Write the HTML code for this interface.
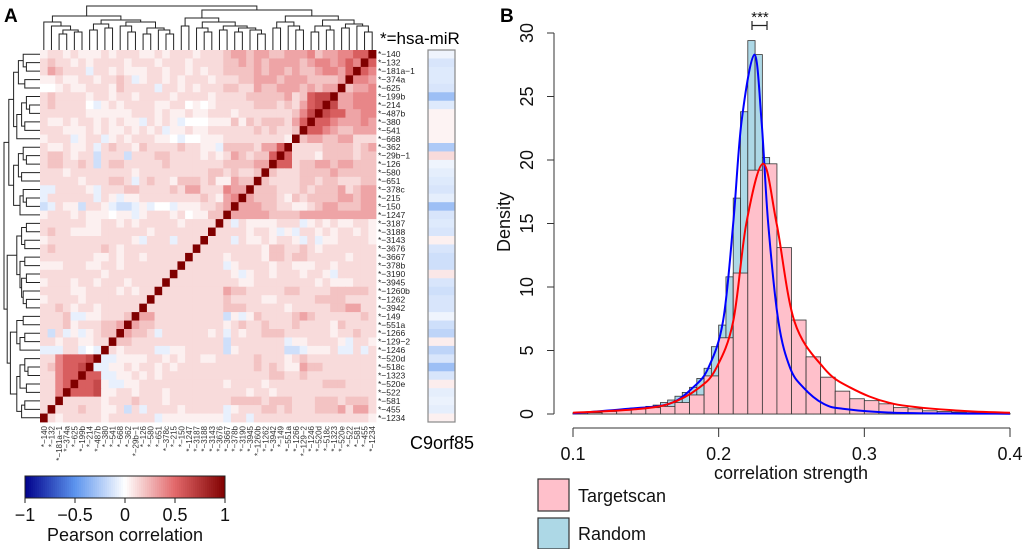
<!DOCTYPE html>
<html><head><meta charset="utf-8"><style>
html,body{margin:0;padding:0;background:#fff}
svg{display:block;font-family:"Liberation Sans",sans-serif}
</style></head><body>
<svg id="fig" width="1024" height="549" viewBox="0 0 1024 549">
<text x="4" y="22" font-size="19" font-weight="bold">A</text>
<text x="500" y="22" font-size="19" font-weight="bold">B</text>
<g id="heat"></g>
<g id="rowlab"></g>
<g id="collab"></g>
<g id="dendTop"></g>
<g id="dendLeft"></g>
<g id="side"></g>
<text x="380" y="44" font-size="17">*=hsa-miR</text>
<text x="410" y="449" font-size="18">C9orf85</text>
<g id="cbar"></g>
<g id="hist"></g>
</svg>
<script>
const NS="http://www.w3.org/2000/svg";
const labels=["140","132","181a\u22121","374a","625","199b","214","487b","380","541","668","362","29b\u22121","126","580","651","378c","215","150","1247","3187","3188","3143","3676","3667","378b","3190","3945","1260b","1262","3942","149","551a","1266","129\u22122","1246","520d","518c","1323","520e","522","581","455","1234"];
const heatRows=[
"122121112122211212221222"+"3443443344453445566D",
"232212122221222122212222"+"334343444434554565D6",
"243222x22121112212212122"+"3333434434334554 6D65".replace(" ",""),
"112112212232x12212122212"+"2233444344433334D554",
"001211222132222x22121222"+"332243344434344D3445",
"232222122122122221222212"+"22233333423677D44555",
"2322220x1212222112201012"+"2222333232467D744555",
"222222111111222121121122"+"212222222357D7664455",
"2112122121211x2121x00011"+"13132333246D66544454",
"2221112121121212x1121122"+"2222323223D665433444",
"1222x122x121222110x00111"+"222222221D3443344222",
"2112112x232213222232211x"+"33332446D22223333234",
"2332122y222y222332222121"+"2432336D622213333233",
"2332232y2332222232222222"+"333344D6623344344333",
"222122222222122222222233"+"23223D32223333433333",
"222221222332x23221333231"+"1433D322223323322233",
"xx22221x2223322223244222"+"544D3332223233342344",
"x222222x21x1122222222321"+"45D43332132333344344",
"yx211y221xyyx1x00x111223"+"4D444332211234433344",
"122212111011x12221201133"+"D4444433334444444444",
"22222211221212222212222D"+"2x21111222x121211221",
"2322111122222212222222D2"+"2221221x1x2212122121",
"1222222222221x222x222D22"+"2x21121221x2x1122221",
"23222222321222222222D222"+"22222133223212222222",
"2222222112122122222D2222"+"12222133233222221222",
"111222112212222222D22222"+"x1222212211122122222",
"22222222122222222D222222"+"21x12212221221x22222",
"1222122122212222D2222222"+"22112222222212111222",
"222211222212122D22222222"+"43322222332222333332",
"12222122222222D222222222"+"32222112222233332222",
"2232122122222D2222222222"+"33322222122222334422",
"2223xx112223D44222222222"+"y1x13222234322222232",
"22231222334D433222222222"+"12322322232222132222",
"2y2x1x1233D4332x22222212"+"x2122333222222122322",
"221221122D33222222222222"+"y2222222x1122221x221",
"xxx22x0xD212222xx1122222"+"y1222222yyx1112xx2x2",
"2256667Dxx11112212122112"+"22223222123222222222",
"235667Dxx112122121222222"+"22223232114332222222",
"22566D66xx11212122222222"+"22222233223222222222",
"2256D6671xx1122222222222"+"12222122222223332222",
"225D66671122122212222222"+"22212212222222222222",
"22D222221222322212222222"+"23333233322233323332",
"2D222322112y2x2222122222"+"x1222332322233342442",
"D21222221222222x11111111"+"x22x2222222222222221"];
const levelValues=[0,0.05,0.12,0.2,0.3,0.4,0.55,0.65,0.75,0.85];
const sideVals=[-0.05,-0.12,-0.1,-0.1,-0.12,-0.3,-0.1,0.04,0.04,0.04,0.04,-0.25,0.12,-0.05,-0.08,-0.1,-0.12,-0.08,-0.3,-0.12,-0.1,-0.12,0.05,-0.12,-0.15,-0.15,0.08,-0.12,-0.15,-0.12,-0.12,-0.05,-0.15,-0.2,0.06,-0.2,-0.12,-0.3,-0.12,0.06,-0.08,-0.06,-0.08,0.05];
const topTree=[1.0,[0.75,[0.6,0,[0.5,1,[0.4,[0.3,2,3],[0.35,4,5]]]],[0.65,[0.55,[0.4,6,7],[0.45,8,9]],[0.6,[0.5,10,[0.35,11,12]],[0.45,[0.3,13,14],[0.4,15,[0.3,16,17]]]]]],[0.9,[0.7,[0.5,18,19],[0.6,[0.45,20,[0.35,21,22]],[0.5,[0.4,23,24],[0.45,[0.35,25,26],[0.4,27,[0.3,28,29]]]]]],[0.75,[0.6,[0.45,30,31],[0.5,32,[0.4,33,34]]],[0.65,[0.5,[0.35,35,36],[0.4,37,38]],[0.55,[0.45,39,40],[0.5,41,[0.35,42,43]]]]]]];
const leftTree=[1.0,[0.85,[0.7,[0.55,[0.4,0,[0.3,1,2]],[0.35,3,4]],[0.6,[0.45,[0.3,5,[0.2,6,7]],[0.35,8,9]],10]],[0.7,[0.55,[0.4,11,[0.3,12,13]],[0.45,14,15]],[0.5,[0.4,16,[0.3,17,18]],19]]],[0.9,[0.6,[0.45,[0.3,20,21],[0.35,22,23]],[0.5,[0.35,24,25],[0.45,[0.3,26,27],[0.4,28,[0.3,29,30]]]]],[0.8,[0.6,[0.4,31,32],[0.5,[0.35,33,34],35]],[0.6,[0.5,[0.35,36,[0.25,37,38]],[0.3,39,40]],[0.45,[0.35,41,42],43]]]]];
const cbTicks=[-1,-0.5,0,0.5,1];
const cbTickLabels=["\u22121","\u22120.5","0","0.5","1"];
// histogram data
const pinkDensity=[0.1,0.1,0.2,0.3,0.4,0.5,0.6,0.9,1.5,3.0,6.0,11.1,19.2,19.7,13.1,7.4,4.5,2.9,1.8,1.2,1.05,0.8,0.5,0.4,0.25,0.2,0.15,0.1,0.1,0.05];
const blueDensity=[0.05,0.05,0.1,0.1,0.2,0.3,0.3,0.3,0.4,0.5,0.6,0.7,0.9,1.1,1.4,1.7,2.1,2.8,3.6,5.3,7.0,10.8,17.0,23.8,29.4,28.3,20.2,12.0,6.5,4.0,2.6,1.8,1.3,0.9,0.7,0.5,0.4,0.3,0.25,0.2,0.15,0.1,0.1,0.1,0.1,0.08,0.06,0.05,0.05,0.04,0.04,0.03,0.03,0.02,0.02,0.02,0.02,0.01,0.01,0.01];
const blueCurveX=[0.10,0.137,0.166,0.1825,0.193,0.203,0.21,0.2157,0.2245,0.2295,0.234,0.241,0.249,0.258,0.272,0.286,0.32,0.40];
const blueCurveY=[0.05,0.4,0.8,2.1,3.65,7.3,15,23,28.3,23,15,7.3,3.65,2.1,0.8,0.4,0.1,0.02];
const redCurveX=[0.10,0.14,0.166,0.187,0.1985,0.21,0.219,0.2305,0.2398,0.252,0.272,0.29,0.32,0.366,0.40];
const redCurveY=[0.1,0.35,0.8,2.1,3.65,7.3,15,19.7,15,7.3,3.65,2.1,0.8,0.25,0.1];
const xTicks=[0.1,0.2,0.3,0.4];
const yTicks=[0,5,10,15,20,25,30];

function mk(tag,attrs,parent){const e=document.createElementNS(NS,tag);for(const k in attrs)e.setAttribute(k,attrs[k]);parent.appendChild(e);return e;}
function lerp(a,b,t){return a.map((v,i)=>Math.round(v+(b[i]-v)*t));}
function col(v){v=Math.max(-1,Math.min(1,v));let c;
 if(v>=0){c=v<0.5?lerp([255,255,255],[226,104,106],v/0.5):lerp([226,104,106],[128,0,0],(v-0.5)/0.5);}
 else{const a=-v;c=a<0.5?lerp([255,255,255],[92,148,238],a/0.5):lerp([92,148,238],[0,0,139],(a-0.5)/0.5);}
 return `rgb(${c[0]},${c[1]},${c[2]})`;}
function charVal(ch){if(ch==="D")return 1;if(ch==="x")return -0.07;if(ch==="y")return -0.15;if(ch==="z")return -0.25;return levelValues[+ch]||0;}

const HX0=40,HY0=50,CW=336/44,RH=372/44;
const cx=c=>HX0+(c+0.5)*CW, ry=r=>HY0+(r+0.5)*RH;
const heat=document.getElementById("heat");
heatRows.forEach((row,r)=>{for(let c=0;c<44;c++){const ch=row[c]||"2";
 const e=mk("rect",{x:(HX0+c*CW).toFixed(2),y:(HY0+r*RH).toFixed(2),width:(CW+0.4).toFixed(2),height:(RH+0.4).toFixed(2),fill:col(charVal(ch))},heat);
 
 }});
const rl=document.getElementById("rowlab"),cl=document.getElementById("collab");
labels.forEach((l,i)=>{
 const t=mk("text",{x:378,y:(ry(i)+3).toFixed(1),"font-size":"8.5",fill:"#222"},rl);t.textContent="*\u2212"+l;
 
 
 const u=mk("text",{transform:`translate(${(cx(i)+3).toFixed(1)},426) rotate(-90)`,"text-anchor":"end","font-size":"8",fill:"#333"},cl);u.textContent="*\u2212"+l;
 
 });
function drawTree(node,g,pos,hmap,vertical){
 if(typeof node==="number")return [pos(node),0];
 const a=drawTree(node[1],g,pos,hmap,vertical),b=drawTree(node[2],g,pos,hmap,vertical),h=node[0];
 const H=hmap(h),ha=hmap(a[1]),hb=hmap(b[1]);
 const d=vertical?`M${a[0]},${ha}V${H}H${b[0]}V${hb}`:`M${ha},${a[0]}H${H}V${b[0]}H${hb}`;
 const p=mk("path",{d:d,fill:"none",stroke:"#222","stroke-width":"1"},g);
 
 
 return [(a[0]+b[0])/2,h];}
drawTree(topTree,document.getElementById("dendTop"),c=>cx(c),h=>h===0?HY0:HY0-4-h*40,true);
drawTree(leftTree,document.getElementById("dendLeft"),r=>ry(r),h=>h===0?HX0:HX0-4-h*32,false);
const side=document.getElementById("side");
sideVals.forEach((v,i)=>{const e=mk("rect",{x:428,y:(HY0+i*RH).toFixed(2),width:27,height:(RH+0.4).toFixed(2),fill:col(v)},side);
 
 });
const sb=mk("rect",{x:428,y:HY0,width:27,height:372,fill:"none",stroke:"#888","stroke-width":"1.2"},side);


const cb=document.getElementById("cbar");const cbx=v=>125+v*100;
for(let i=0;i<100;i++){const v=-1+i*0.02+0.01;const e=mk("rect",{x:(cbx(v)-1).toFixed(2),y:476,width:2.2,height:22,fill:col(v)},cb);
 
 }
const cf=mk("rect",{x:25,y:476,width:200,height:22,fill:"none",stroke:"#222","stroke-width":"1"},cb);


cbTicks.forEach((v,i)=>{const l=mk("line",{x1:cbx(v),x2:cbx(v),y1:498,y2:503,stroke:"#222"},cb);
 
 
 const t=mk("text",{x:cbx(v),y:521,"text-anchor":"middle","font-size":"18",fill:"#111"},cb);t.textContent=cbTickLabels[i];
 
 });
const ct=mk("text",{x:125,y:541,"text-anchor":"middle","font-size":"18",fill:"#111"},cb);ct.textContent="Pearson correlation";


const hg=document.getElementById("hist");
const X=v=>573+(v-0.1)*(437/0.3), Y=d=>414-d*12.7;
blueDensity.forEach((d,i)=>{const x0=0.1+i*0.005;const e=mk("rect",{x:X(x0).toFixed(2),y:Y(d).toFixed(2),width:(X(x0+0.005)-X(x0)).toFixed(2),height:(414-Y(d)).toFixed(2),fill:"#ADD8E6",stroke:"#333","stroke-width":"0.8"},hg);
 
 });
pinkDensity.forEach((d,i)=>{const x0=0.1+i*0.01;const e=mk("rect",{x:X(x0).toFixed(2),y:Y(d).toFixed(2),width:(X(x0+0.01)-X(x0)).toFixed(2),height:(414-Y(d)).toFixed(2),fill:"#FFC0CB",stroke:"#333","stroke-width":"0.8"},hg);
 
 });
function curve(xs,ys,color,name){
 const P=xs.map((x,i)=>[X(x),Y(ys[i])]);
 let d="M"+P[0][0].toFixed(1)+","+P[0][1].toFixed(1);
 for(let i=0;i<P.length-1;i++){const p0=P[Math.max(0,i-1)],p1=P[i],p2=P[i+1],p3=P[Math.min(P.length-1,i+2)];
  const c1=[p1[0]+(p2[0]-p0[0])/6,p1[1]+(p2[1]-p0[1])/6],c2=[p2[0]-(p3[0]-p1[0])/6,p2[1]-(p3[1]-p1[1])/6];
  d+=`C${c1[0].toFixed(1)},${c1[1].toFixed(1)} ${c2[0].toFixed(1)},${c2[1].toFixed(1)} ${p2[0].toFixed(1)},${p2[1].toFixed(1)}`;}
 const p=mk("path",{d:d,fill:"none",stroke:color,"stroke-width":"2","stroke-linejoin":"round"},hg);
 
 }
curve(blueCurveX,blueCurveY,"#0000FF","random-density-curve");
curve(redCurveX,redCurveY,"#FF0000","targetscan-density-curve");
const xa=mk("line",{x1:X(0.1),x2:X(0.4),y1:428,y2:428,stroke:"#333"},hg);


xTicks.forEach(v=>{const l=mk("line",{x1:X(v),x2:X(v),y1:428,y2:437,stroke:"#333"},hg);
 
 
 const t=mk("text",{x:X(v),y:460,"text-anchor":"middle","font-size":"18",fill:"#111"},hg);t.textContent=String(v);
 
 });
const ya=mk("line",{x1:554,x2:554,y1:Y(0),y2:Y(30),stroke:"#333"},hg);


yTicks.forEach(v=>{const l=mk("line",{x1:547,x2:554,y1:Y(v),y2:Y(v),stroke:"#333"},hg);
 
 
 const t=mk("text",{transform:`translate(533,${Y(v).toFixed(1)}) rotate(-90)`,"text-anchor":"middle","font-size":"18",fill:"#111"},hg);t.textContent=String(v);
 
 });
const yt=mk("text",{transform:"translate(510,222) rotate(-90)","text-anchor":"middle","font-size":"18",fill:"#111"},hg);yt.textContent="Density";


const xt=mk("text",{x:791,y:479,"text-anchor":"middle","font-size":"18",fill:"#111"},hg);xt.textContent="correlation strength";


const br=mk("path",{d:"M752,21V30M752,25.5H767M767,21V30",stroke:"#222","stroke-width":"1.2",fill:"none"},hg);


const st=mk("text",{x:760,y:22,"text-anchor":"middle","font-size":"15",fill:"#111"},hg);st.textContent="***";


const lg1=mk("rect",{x:538,y:479,width:31,height:32,fill:"#FFC0CB",stroke:"#333","stroke-width":"1.2"},hg);


const lg2=mk("rect",{x:538,y:518,width:31,height:31,fill:"#ADD8E6",stroke:"#333","stroke-width":"1.2"},hg);


const lt1=mk("text",{x:578,y:502,"font-size":"18",fill:"#111"},hg);lt1.textContent="Targetscan";


const lt2=mk("text",{x:578,y:540,"font-size":"18",fill:"#111"},hg);lt2.textContent="Random";


</script>
</body></html>
